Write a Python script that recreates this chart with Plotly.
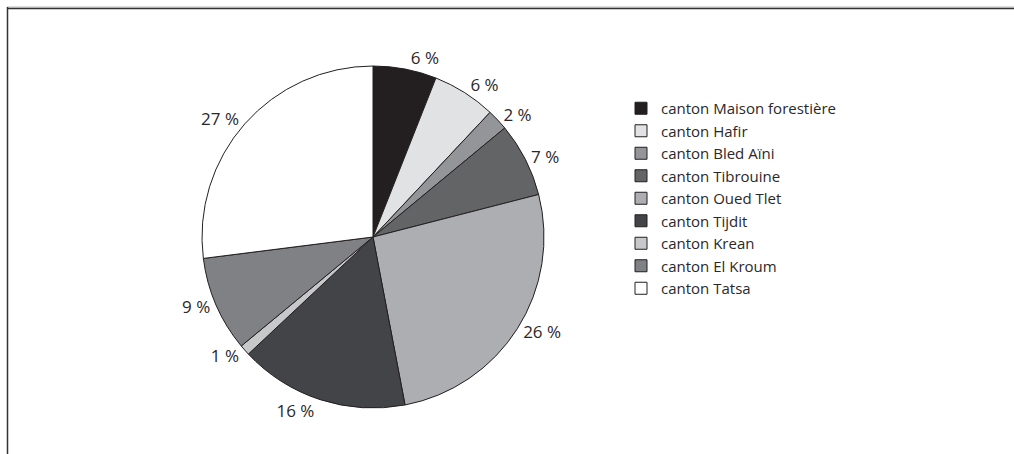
import plotly.graph_objects as go

cantons = ["canton Maison forestière", "canton Hafir", "canton Bled Aïni", "canton Tibrouine",
           "canton Oued Tlet", "canton Tijdit", "canton Krean", "canton El Kroum", "canton Tatsa"]
shares = [6, 6, 2, 7, 26, 16, 1, 9, 27]
colors = ["#231f20", "#e1e2e4", "#939598", "#636466", "#adaeb1", "#434447", "#c7c8ca", "#808184", "#ffffff"]
labels_txt = [f"{v} %" for v in shares]

W, H = 1014, 454
cx, cy, r = 373, 237, 171

fig = go.Figure(go.Pie(
    labels=cantons, values=shares, text=labels_txt, textinfo="text",
    textposition="outside", sort=False, direction="clockwise", rotation=0,
    marker=dict(colors=colors, line=dict(color="#231f20", width=1)),
    textfont=dict(family="Open Sans", size=17, color="#2b2829"),
    domain=dict(x=[(cx - r) / W, (cx + r) / W], y=[1 - (cy + r) / H, 1 - (cy - r) / H]),
    hoverinfo="label+percent",
))

fig.update_layout(
    width=W, height=H, margin=dict(l=0, r=0, t=0, b=0),
    paper_bgcolor="white", plot_bgcolor="white",
    showlegend=True,
    legend=dict(x=621 / W, y=1 - 92 / H, xanchor="left", yanchor="top",
                font=dict(family="Open Sans", size=15, color="#2b2829"),
                tracegroupgap=0, bgcolor="rgba(0,0,0,0)"),
    shapes=[
        dict(type="line", xref="paper", yref="paper", x0=7 / W, x1=1, y0=1 - 7 / H, y1=1 - 7 / H,
             line=dict(color="#bbbbbb", width=1)),
        dict(type="line", xref="paper", yref="paper", x0=7 / W, x1=1, y0=1 - 8.5 / H, y1=1 - 8.5 / H,
             line=dict(color="#333333", width=1.5)),
        dict(type="line", xref="paper", yref="paper", x0=7.5 / W, x1=7.5 / W, y0=0, y1=1 - 7 / H,
             line=dict(color="#333333", width=1.5)),
    ],
)

fig.write_html("out.html")
